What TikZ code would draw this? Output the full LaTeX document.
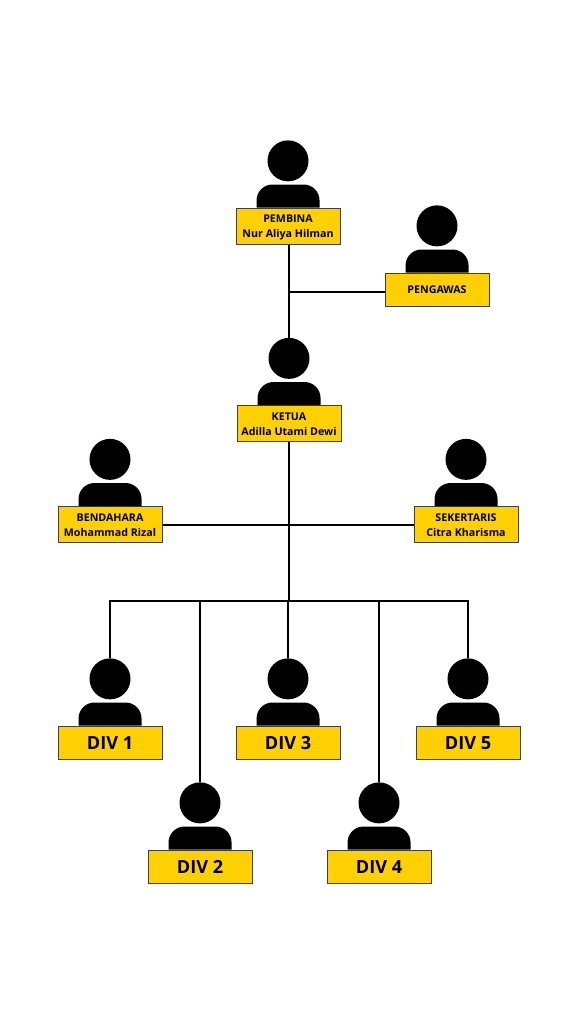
\documentclass[tikz,border=0pt]{standalone}
\usepackage{fontspec}
\setmainfont{Open Sans}
\usetikzlibrary{positioning, calc}

\definecolor{boxyellow}{HTML}{FFD003}

\tikzset{
  namebox/.style={draw=black!75, line width=0.75pt, fill=boxyellow, minimum width=78pt,
        inner sep=0pt, align=center, text depth=0pt},
  smallbox/.style={namebox, minimum height=27pt, font=\fontsize{8}{11.2}\selectfont\bfseries,
        text height=17.6pt},
  widebox/.style={namebox, minimum height=24.75pt, font=\fontsize{8}{11.2}\selectfont\bfseries,
        text height=6pt},
  divbox/.style={namebox, minimum height=24.75pt, font=\fontsize{13.6}{16}\selectfont\bfseries,
        text height=11pt},
  head/.style={circle, fill=black, minimum size=30.75pt, inner sep=0pt},
  link/.style={line width=1.5pt, black}
}

\begin{document}
\begin{tikzpicture}[x=0.75pt, y=-0.75pt]
  \useasboundingbox (0,0) rectangle (576,1024);

  \node[smallbox] (pembina) at (288,226) {PEMBINA\\Nur Aliya Hilman};
  \node[widebox] (pengawas) at (437,289.5) {PENGAWAS};
  \node[smallbox] (ketua) at (289,423.5) {KETUA\\Adilla Utami Dewi};
  \node[smallbox] (bendahara) at (110,524.5) {BENDAHARA\\Mohammad Rizal};
  \node[smallbox] (sekertaris) at (466,524.5) {SEKERTARIS\\Citra Kharisma};

  \node[divbox] (div1) at (110,742.5) {DIV 1};
  \node[divbox] (div2) at (200,866.5) {DIV 2};
  \node[divbox] (div3) at (288,742.5) {DIV 3};
  \node[divbox] (div4) at (379,866.5) {DIV 4};
  \node[divbox] (div5) at (468,742.5) {DIV 5};

  % head and shoulders above each box
  \foreach \who in {pembina, pengawas, ketua, bendahara, sekertaris,
                    div1, div2, div3, div4, div5} {
    \node[head, above=19.4pt of \who] (\who head) {};
    \fill[black, rounded corners=12pt] ([xshift=-23.6pt]\who.north) -- ++(0,-23)
      -- ++(63,0) -- ++(0,23);
  }

  \coordinate (split) at (ketua.south |- 0,601);
  \coordinate (left end) at (div1head.north |- split);
  \coordinate (right end) at (div5head.north |- split);
  \coordinate (side) at (ketuahead.north |- 0,292);

  \draw[link] (pembina.south -| ketuahead.north) -- (ketuahead.north);
  \draw[link] (side) -- (side -| pengawas.west);
  \draw[link] (ketua.south) -- (split);
  \draw[link] (bendahara.east) -- (sekertaris.west);
  \draw[link, line cap=rect] (left end) -- (right end);

  \draw[link] (left end) -- (div1head.north);
  \draw[link] (div2head.north |- split) -- (div2head.north);
  \draw[link] (div3head.north |- split) -- (div3head.north);
  \draw[link] (div4head.north |- split) -- (div4head.north);
  \draw[link] (right end) -- (div5head.north);
\end{tikzpicture}
\end{document}
